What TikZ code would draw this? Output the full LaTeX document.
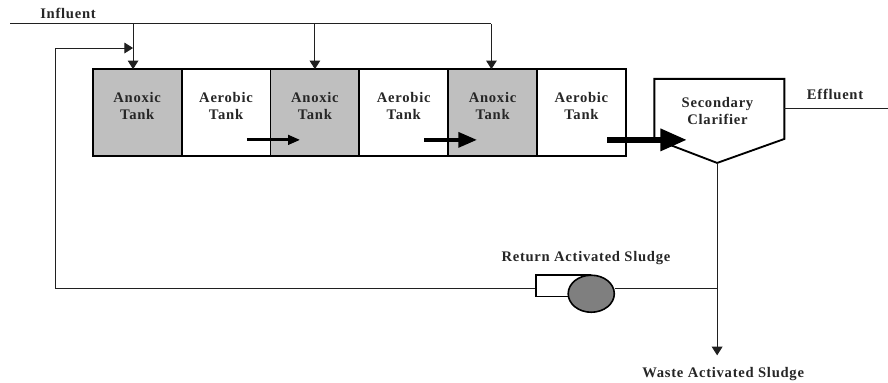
\documentclass[tikz,border=0pt]{standalone}
\usepackage{xcolor}
\usepackage{fontspec}
\newfontfamily\diagfont[LetterSpace=5]{Liberation Serif}
\usetikzlibrary{arrows.meta,positioning,shapes.geometric}

\definecolor{tankgray}{HTML}{BFBFBF}
\definecolor{pumpgray}{HTML}{7F7F7F}
\definecolor{linegray}{HTML}{202020}

\begin{document}
\begin{tikzpicture}[
lbl/.style={font=\diagfont\fontsize{11}{12.7}\selectfont\bfseries, text=black!85, align=center, inner sep=0pt},
tank/.style={rectangle, draw, line width=1.4pt, outer sep=0pt, minimum width=2.35cm, minimum height=2.3cm, inner sep=0pt, label={[lbl, yshift=0.17cm]center:#1}},
anoxic/.style={tank={Anoxic\\Tank}, fill=tankgray},
aerobic/.style={tank={Aerobic\\Tank}, fill=white},
pipe/.style={line width=0.75pt, draw=linegray},
feed/.style={pipe, -{Triangle[length=6.5pt, width=8pt]}},
flow_a/.style={line width=2.2pt, -{Triangle[length=9pt, width=7pt]}},
flow_b/.style={line width=3pt, -{Triangle[length=14pt, width=11pt]}},
flow_c/.style={line width=4.4pt, -{Triangle[length=20pt, width=16pt]}}
]
\useasboundingbox (0,0) rectangle (23.49,-10.13);

% Tanks
\node[anoxic] (anoxic_a) at (3.63,-2.98) {};
\node[aerobic, right=0pt of anoxic_a] (aerobic_a) {};
\node[anoxic, right=0pt of aerobic_a] (anoxic_b) {};
\node[aerobic, right=0pt of anoxic_b] (aerobic_b) {};
\node[anoxic, right=0pt of aerobic_b] (anoxic_c) {};
\node[aerobic, right=0pt of anoxic_c] (aerobic_c) {};

% Clarifier
\node[inner sep=0pt, outer sep=0pt, minimum width=3.44cm, minimum height=1.59cm, label={[lbl, xshift=-0.05cm, yshift=-0.06cm]center:Secondary\\Clarifier}] (clarifier) at (19.03,-2.88) {};
\coordinate (clar_tip) at (18.97,-4.31);
\draw[line width=1.4pt] (clarifier.south east) -- (clarifier.north east) -- (clarifier.north west) -- (clarifier.south west) -- (clar_tip) -- cycle;

% Influent line
\coordinate (in_start) at (0.27,-0.63);
\coordinate (in_end) at (13.0,-0.63);
\coordinate (drop_a) at (3.52,-0.63);
\coordinate (drop_b) at (8.33,-0.63);
\node[lbl, anchor=south west] (influent) at (1.06,-0.49) {Influent};
\draw[pipe] (in_start) -- (in_end);
\draw[feed] (drop_a) -- (drop_a |- anoxic_a.north);
\draw[feed] (drop_b) -- (drop_b |- anoxic_b.north);
\draw[feed] (in_end) -- (in_end |- anoxic_c.north);

% Flow between tanks
\coordinate (flow_a_start) at (6.53,-3.7);
\coordinate (flow_a_end) at (7.94,-3.7);
\coordinate (flow_b_start) at (11.22,-3.7);
\coordinate (flow_b_end) at (12.62,-3.7);
\coordinate (flow_c_start) at (16.06,-3.7);
\coordinate (flow_c_end) at (18.17,-3.7);
\draw[flow_a] (flow_a_start) -- (flow_a_end);
\draw[flow_b] (flow_b_start) -- (flow_b_end);
\draw[flow_c] (flow_c_start) -- (flow_c_end);

% Effluent
\coordinate (eff_end) at (23.49,-2.88);
\node[lbl, anchor=base] (effluent) at (22.09,-2.63) {Effluent};
\draw[pipe] (clarifier.east) -- (eff_end);

% Return line and pump
\coordinate (junction) at (18.97,-7.63);
\coordinate (ret_top) at (1.46,-1.27);
\coordinate (waste_end) at (18.97,-9.4);
\node[rectangle, draw, line width=1.2pt, fill=white, minimum width=1.43cm, minimum height=0.57cm, inner sep=0pt] (pump_box) at (14.89,-7.56) {};
\node[ellipse, draw, line width=1.2pt, fill=pumpgray, minimum width=1.22cm, minimum height=0.98cm, inner sep=0pt] (pump_body) at (15.64,-7.77) {};
\node[lbl, anchor=base] (return_lbl) at (15.5,-6.93) {Return Activated Sludge};
\node[lbl, anchor=base] (waste_lbl) at (19.13,-9.98) {Waste Activated Sludge};
\draw[pipe] (clar_tip) -- (junction);
\draw[pipe] (junction) -- (junction -| pump_body.east);
\draw[feed] (pump_box.west |- junction) -| (ret_top) -- (ret_top -| drop_a);
\draw[feed] (junction) -- (waste_end);

\end{tikzpicture}
\end{document}
